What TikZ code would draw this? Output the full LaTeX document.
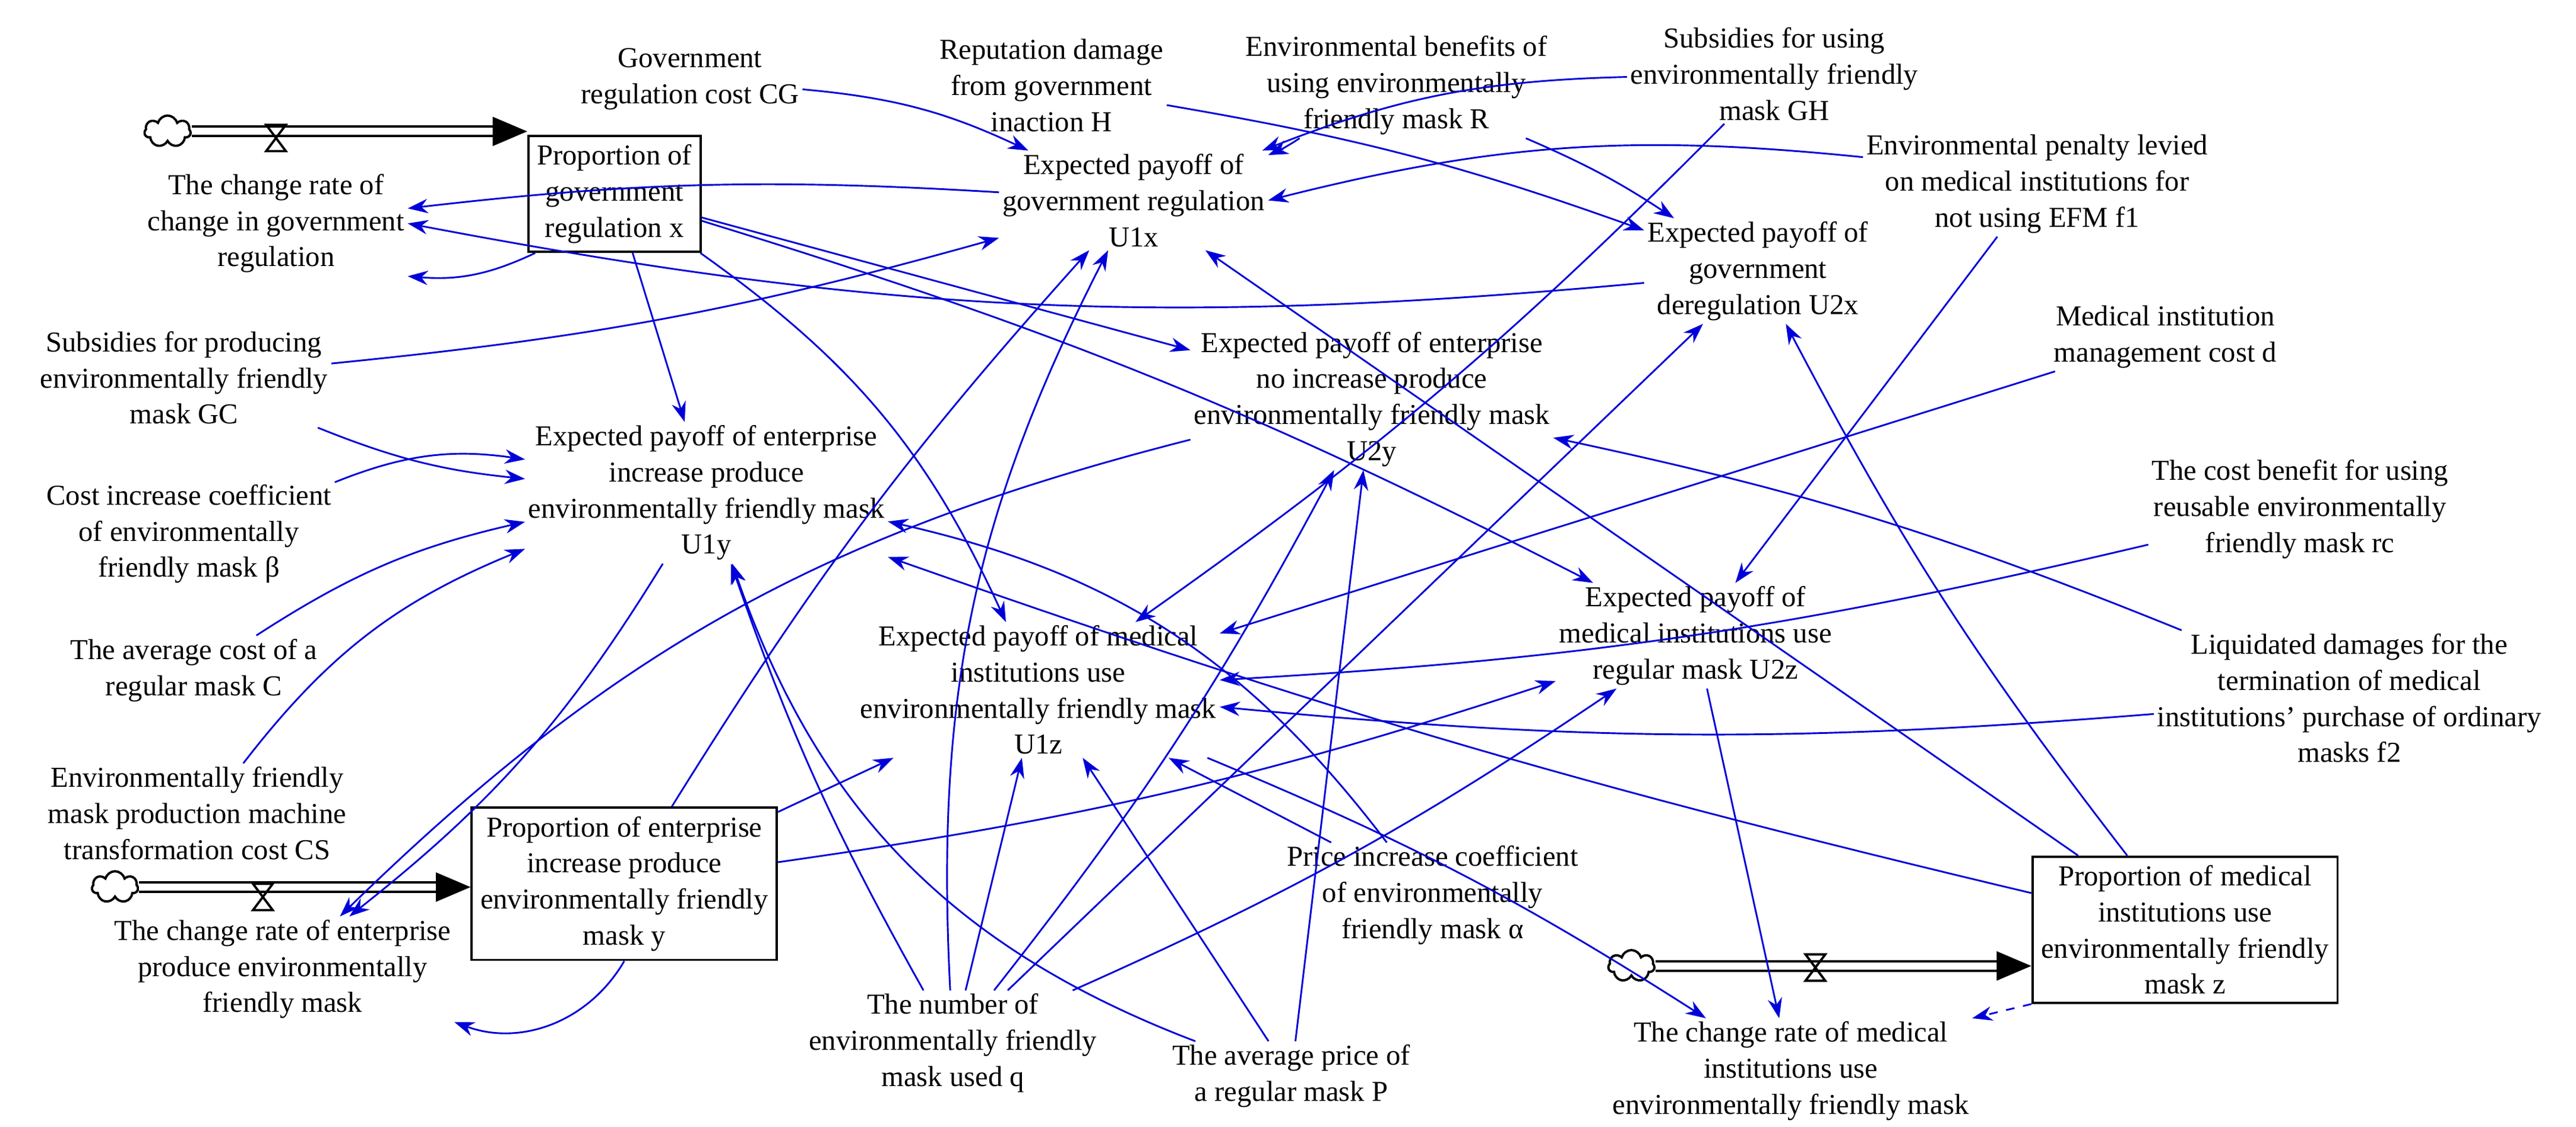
\documentclass[tikz,border=0pt]{standalone}
\usepackage{fontspec}
\setmainfont{Liberation Serif}
\usetikzlibrary{arrows.meta,shapes.symbols}
\begin{document}
\begin{tikzpicture}[x=0.02cm,y=-0.02cm,
 t/.style={align=center,font=\fontsize{10}{12.5}\selectfont,inner sep=1pt},
 bx/.style={t,draw,thick,inner sep=3pt},
 c/.style={-{Stealth[length=7pt,width=5pt]},blue!85!black,semithick},
 fl/.style={double,double distance=2.5pt,thick,-{Triangle[length=12pt,width=10pt]}},
 cl/.style={cloud,cloud puffs=7,draw,thick,minimum width=16pt,minimum height=11pt,inner sep=0pt}]
\useasboundingbox (0,0) rectangle (1568,686);
% nodes
\node[t] (cg) at (420,48) {Government\\regulation cost CG};
\node[t] (rh) at (640,52) {Reputation damage\\from government\\inaction H};
\node[t] (rb) at (850,52) {Environmental benefits of\\using environmentally\\friendly mask R};
\node[t] (gh) at (1080,45) {Subsidies for using\\environmentally friendly\\mask GH};
\node[t] (f1) at (1240,112) {Environmental penalty levied\\on medical institutions for\\not using EFM f1};
\node[bx] (px) at (374,118) {Proportion of\\government\\regulation x};
\node[t] (cx) at (168,136) {The change rate of\\change in government\\regulation};
\node[t] (u1x) at (690,122) {Expected payoff of\\government regulation\\U1x};
\node[t] (u2x) at (1070,165) {Expected payoff of\\government\\deregulation U2x};
\node[t] (gc) at (112,230) {Subsidies for producing\\environmentally friendly\\mask GC};
\node[t] (u2y) at (835,243) {Expected payoff of enterprise\\no increase produce\\environmentally friendly mask\\U2y};
\node[t] (d) at (1318,205) {Medical institution\\management cost d};
\node[t] (u1y) at (430,300) {Expected payoff of enterprise\\increase produce\\environmentally friendly mask\\U1y};
\node[t] (beta) at (115,325) {Cost increase coefficient\\of environmentally\\friendly mask β};
\node[t] (rc) at (1400,310) {The cost benefit for using\\reusable environmentally\\friendly mask rc};
\node[t] (C) at (118,408) {The average cost of a\\regular mask C};
\node[t] (u1z) at (632,420) {Expected payoff of medical\\institutions use\\environmentally friendly mask\\U1z};
\node[t] (u2z) at (1032,387) {Expected payoff of\\medical institutions use\\regular mask U2z};
\node[t] (f2) at (1430,425) {Liquidated damages for the\\termination of medical\\institutions' purchase of ordinary\\masks f2};
\node[t] (cs) at (120,495) {Environmentally friendly\\mask production machine\\transformation cost CS};
\node[bx] (py) at (380,538) {Proportion of enterprise\\increase produce\\environmentally friendly\\mask y};
\node[t] (cy) at (172,590) {The change rate of enterprise\\produce environmentally\\friendly mask};
\node[t] (al) at (872,545) {Price increase coefficient\\of environmentally\\friendly mask α};
\node[bx] (pz) at (1330,566) {Proportion of medical\\institutions use\\environmentally friendly\\mask z};
\node[t] (q) at (580,635) {The number of\\environmentally friendly\\mask used q};
\node[t] (P) at (786,655) {The average price of\\a regular mask P};
\node[t] (cz) at (1090,652) {The change rate of medical\\institutions use\\environmentally friendly mask};
% flows
\node[cl] (k1) at (102,80) {};
\coordinate (v1) at (168,84);
\draw[fl] (k1.east) -- (px.west|-k1.east);
\draw[thick] (v1)+(-6,-8) -- +(6,-8) -- +(-6,8) -- +(6,8) -- cycle;
\node[cl] (k2) at (70,540) {};
\coordinate (v2) at (160,546);
\draw[fl] (k2.east) -- (py.west|-k2.east);
\draw[thick] (v2)+(-6,-8) -- +(6,-8) -- +(-6,8) -- +(6,8) -- cycle;
\node[cl] (k3) at (993,588) {};
\coordinate (v3) at (1105,589);
\draw[fl] (k3.east) -- (pz.west|-k3.east);
\draw[thick] (v3)+(-6,-8) -- +(6,-8) -- +(-6,8) -- +(6,8) -- cycle;
% connectors
\draw[c] (cg) to[bend left=10] (u1x);
\draw[c] (rh) to[bend left=5] (u2x);
\draw[c] (rb) to[bend left=5] (u1x);
\draw[c] (rb) to[bend left=5] (u2x);
\draw[c] (gh) to[bend right=10] (u1x);
\draw[c] (gh) to[bend left=5] (u1z);
\draw[c] (f1) to[bend right=10] (u1x.east);
\draw[c] (f1) to (u2z);
\draw[c] (px) to[bend left=15] (cx.south east);
\draw[c] (px) to (u1y);
\draw[c] (px) to[bend left=15] (u1z);
\draw[c] (px) to[bend left=5] (u2z);
\draw[c] (px) to (u2y);
\draw[c] (u1x) to[bend right=5] (cx);
\draw[c] (u2x) to[bend left=8] (cx.east);
\draw[c] (gc) to[bend right=5] (u1x);
\draw[c] (gc) to[bend right=8] (u1y);
\draw[c] (beta) to[bend left=15] (u1y);
\draw[c] (C) to[bend left=10] (u1y);
\draw[c] (cs) to[bend left=15] (u1y);
\draw[c] (u1y) to[bend left=10] (cy);
\draw[c] (u2y) to[bend right=15] (cy);
\draw[c] (d) to (u1z);
\draw[c] (rc) to[bend left=5] (u1z);
\draw[c] (f2) to[bend left=5] (u1z);
\draw[c] (f2) to[bend right=5] (u2y);
\draw[c] (pz) to[bend left=5] (u2x);
\draw[c] (pz) to (u1x);
\draw[c] (pz) to[bend left=3] (u1y);
\draw[c,dashed] (pz.south west) -- (cz.north east);
\draw[c] (u2z) to (cz);
\draw[c] (u1z) to[bend left=5] (cz);
\draw[c] (py.south) to[bend left=40] (cy.south east);
\draw[c] (py) to (u1z);
\draw[c] (py) to[bend right=5] (u2z);
\draw[c] (py) to[bend left=5] (u1x);
\draw[c] (q) to[bend left=15] (u1x);
\draw[c] (q) to[bend right=5] (u2y);
\draw[c] (q) to[bend left=5] (u1y);
\draw[c] (q) to (u1z);
\draw[c] (q) to (u2x);
\draw[c] (q) to[bend right=5] (u2z);
\draw[c] (P) to[bend left=25] (u1y);
\draw[c] (P) to (u1z);
\draw[c] (P) to (u2y);
\draw[c] (al) to[bend right=20] (u1y);
\draw[c] (al) to (u1z);
\end{tikzpicture}
\end{document}
